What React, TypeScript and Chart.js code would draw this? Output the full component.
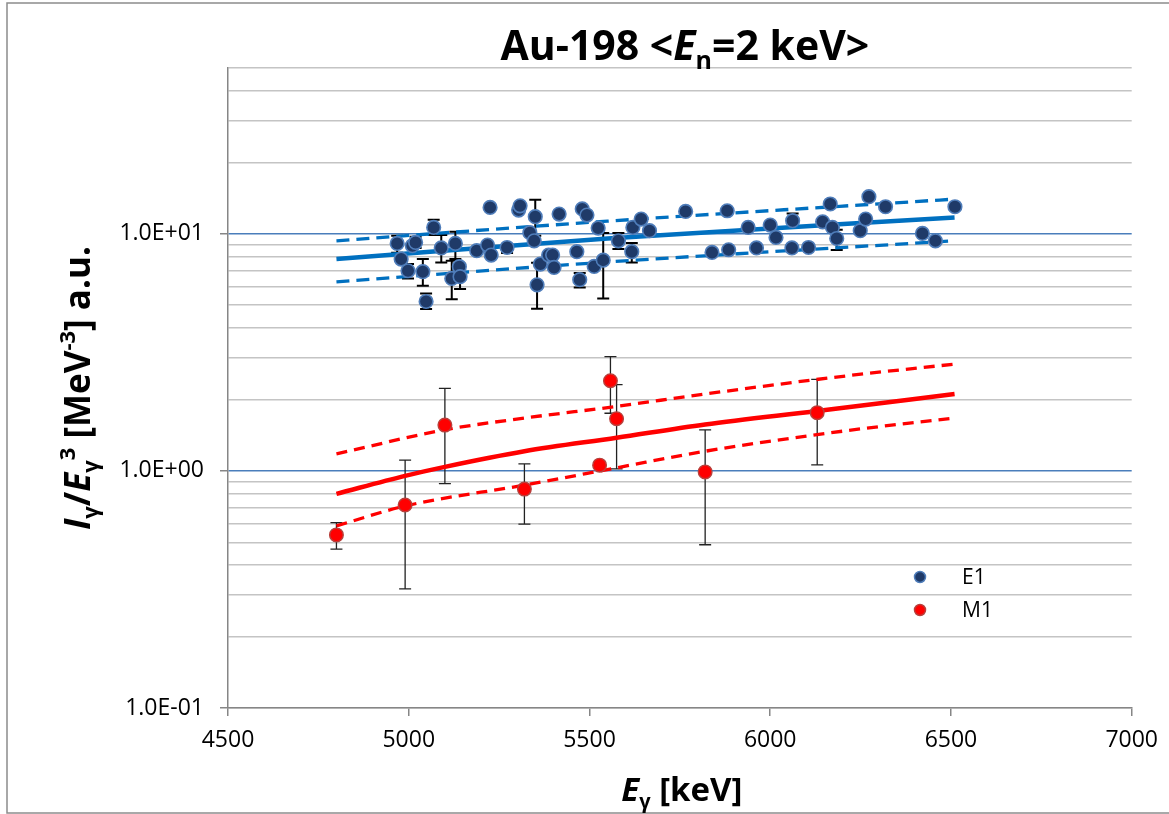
import { useEffect, useRef } from 'react';
import { Chart, registerables } from 'chart.js';

Chart.register(...registerables);

// ---------- DATA ----------
// E1 data points: gamma energy (keV) and intensity / E^3 (a.u.)
const e1Energy = [4968, 4979, 4998, 5010, 5019, 5039, 5048, 5069, 5090, 5129, 5140, 5119, 5142, 5188, 5218, 5228, 5225, 5272, 5304, 5308, 5350, 5335, 5347, 5364, 5355, 5416, 5387, 5398, 5402, 5465, 5473, 5480, 5493, 5524, 5513, 5538, 5580, 5617, 5620, 5643, 5666, 5766, 5881, 5939, 6000, 6016, 6062, 5839, 5885, 5962, 6060, 6106, 6145, 6172, 6184, 6166, 6249, 6264, 6273, 6319, 6421, 6457, 6511];
const e1Value = [9.10, 7.82, 6.98, 8.90, 9.19, 6.92, 5.18, 10.63, 8.71, 9.10, 7.26, 6.48, 6.59, 8.48, 8.96, 8.13, 12.91, 8.75, 12.59, 13.12, 11.80, 10.10, 9.34, 7.45, 6.09, 12.11, 8.13, 8.13, 7.21, 8.40, 6.40, 12.72, 11.99, 10.57, 7.28, 7.74, 9.34, 8.40, 10.63, 11.53, 10.30, 12.42, 12.50, 10.63, 10.88, 9.65, 11.35, 8.34, 8.56, 8.71, 8.71, 8.75, 11.23, 10.63, 9.55, 13.35, 10.30, 11.53, 14.33, 13.00, 10.03, 9.34, 13.00];
// E1 points that carry visible error bars (index into the arrays above)
const e1ErrIndex = [0, 2, 4, 5, 6, 7, 8, 9, 11, 12, 17, 20, 24, 30, 35, 36, 37, 46, 54];
const e1ErrLow = [8.31, 6.48, 8.70, 6.03, 4.81, 9.87, 7.57, 7.82, 5.30, 5.85, 8.29, 9.81, 4.83, 5.93, 5.33, 8.62, 7.57, 10.6, 8.54];
const e1ErrHigh = [9.81, 7.45, 9.71, 7.82, 5.60, 11.46, 9.87, 10.2, 7.69, 7.47, 8.96, 13.92, 7.54, 6.83, 10.07, 10.07, 9.14, 12.18, 10.4];

// M1 data points
const m1Energy = [4800, 4990, 5100, 5320, 5528, 5558, 5575, 5820, 6130];
const m1Value = [0.537, 0.718, 1.56, 0.838, 1.057, 2.40, 1.66, 0.99, 1.76];
const m1ErrLow: (number | null)[] = [0.468, 0.318, 0.884, 0.596, null, 1.75, 1.02, 0.488, 1.06];
const m1ErrHigh: (number | null)[] = [0.605, 1.11, 2.23, 1.07, null, 3.03, 2.31, 1.49, 2.43];

// E1 fit (solid) and its band (dashed)
const e1FitEnergy = [4800, 5550, 6510];
const e1FitValue = [7.83, 9.55, 11.7];
const e1UpperValue = [9.34, 11.3, 14.0];
const e1LowerValue = [6.27, 7.6, 9.34];

// M1 fit (solid) and its band (dashed)
const m1FitEnergy = [4800, 4990, 5100, 5320, 5575, 5820, 6130, 6510];
const m1FitValue = [0.80, 0.953, 1.04, 1.21, 1.38, 1.57, 1.79, 2.11];
const m1UpperEnergy = [4800, 5100, 5320, 5575, 5820, 6215, 6510];
const m1UpperValue = [1.18, 1.49, 1.67, 1.87, 2.11, 2.52, 2.82];
const m1LowerEnergy = [4800, 4990, 5320, 5575, 5820, 6215, 6510];
const m1LowerValue = [0.586, 0.711, 0.871, 1.03, 1.21, 1.48, 1.67];

// Axes
const xMin = 4500;
const xMax = 7000;
const xStep = 500;
const yMin = 0.1;
const yMax = 50;
const yDecades = [0.1, 1, 10];
const yMultipliers = [1, 2, 3, 4, 5, 6, 7, 8, 9];

const legendLabels = ['E1', 'M1'];

// ---------- STYLE ----------
const W = 1169;
const H = 814;
const FONT = '"Open Sans", "DejaVu Sans", sans-serif';
const E1_FILL = '#1F3A68';
const E1_EDGE = '#4F7DBA';
const M1_FILL = '#FF0000';
const M1_EDGE = '#B8403C';
const BLUE_LINE = '#0070C0';
const RED_LINE = '#FF0000';

const yTickValues: number[] = [];
yDecades.forEach((d) => yMultipliers.forEach((m) => {
  const v = +(d * m).toPrecision(3);
  if (v <= yMax) yTickValues.push(v);
}));
if (!yTickValues.includes(yMax)) yTickValues.push(yMax);

const isDecade = (v: number) => {
  const l = Math.log10(v);
  return Math.abs(l - Math.round(l)) < 1e-9;
};
const sciLabel = (v: number) => {
  const e = Math.round(Math.log10(v));
  return `1.0E${e < 0 ? '-' : '+'}${String(Math.abs(e)).padStart(2, '0')}`;
};

type Seg = { t: string; i?: boolean; sub?: boolean; sup?: boolean };

function drawRich(ctx: CanvasRenderingContext2D, segs: Seg[], cx: number, baseline: number, size: number) {
  const fontFor = (s: Seg) => `${s.i ? 'italic ' : ''}bold ${s.sub || s.sup ? Math.round(size * 0.62) : size}px ${FONT}`;
  let total = 0;
  for (const s of segs) {
    ctx.font = fontFor(s);
    total += ctx.measureText(s.t).width;
  }
  let x = cx - total / 2;
  ctx.textBaseline = 'alphabetic';
  ctx.textAlign = 'left';
  for (const s of segs) {
    ctx.font = fontFor(s);
    const dy = s.sub ? size * 0.22 : s.sup ? -size * 0.42 : 0;
    ctx.fillText(s.t, x, baseline + dy);
    x += ctx.measureText(s.t).width;
  }
}

const errorBarPlugin = {
  id: 'errorBars',
  beforeDatasetsDraw(chart: any) {
    const { ctx } = chart;
    const xs = chart.scales.x;
    const ys = chart.scales.y;
    const bar = (e: number, lo: number, hi: number, lw: number, color: string) => {
      const px = xs.getPixelForValue(e);
      const pl = ys.getPixelForValue(lo);
      const ph = ys.getPixelForValue(hi);
      ctx.strokeStyle = color;
      ctx.lineWidth = lw;
      ctx.beginPath();
      ctx.moveTo(px, pl);
      ctx.lineTo(px, ph);
      ctx.moveTo(px - 6, pl);
      ctx.lineTo(px + 6, pl);
      ctx.moveTo(px - 6, ph);
      ctx.lineTo(px + 6, ph);
      ctx.stroke();
    };
    ctx.save();
    e1ErrIndex.forEach((idx, k) => bar(e1Energy[idx], e1ErrLow[k], e1ErrHigh[k], 2, '#000'));
    m1Energy.forEach((e, i) => {
      const lo = m1ErrLow[i];
      const hi = m1ErrHigh[i];
      if (lo != null && hi != null) bar(e, lo, hi, 1.3, '#222');
    });
    ctx.restore();
  },
};

const decorPlugin = {
  id: 'decor',
  afterDraw(chart: any) {
    const { ctx, chartArea } = chart;
    ctx.save();
    // outer frame
    ctx.strokeStyle = '#8C8C8C';
    ctx.lineWidth = 1.5;
    ctx.strokeRect(7, 3, W + 20, 810);

    ctx.fillStyle = '#000';
    // title
    const midX = (chartArea.left + chartArea.right) / 2;
    drawRich(ctx, [
      { t: 'Au-198 <' },
      { t: 'E', i: true },
      { t: 'n', sub: true },
      { t: '=2 keV>' },
    ], midX + 5, 60, 41);

    // x title
    drawRich(ctx, [
      { t: 'E', i: true },
      { t: 'γ', sub: true },
      { t: ' [keV]' },
    ], midX + 2, 801, 33);

    // y title
    ctx.save();
    ctx.translate(90, (chartArea.top + chartArea.bottom) / 2);
    ctx.rotate(-Math.PI / 2);
    drawRich(ctx, [
      { t: 'I', i: true },
      { t: 'γ', sub: true },
      { t: '/' },
      { t: 'E', i: true },
      { t: 'γ', sub: true },
      { t: '3', sup: true },
      { t: ' [MeV' },
      { t: '-3', sup: true },
      { t: '] a.u.' },
    ], 0, 0, 35);
    ctx.restore();

    // legend
    const items = [
      { fill: E1_FILL, edge: E1_EDGE },
      { fill: M1_FILL, edge: M1_EDGE },
    ];
    items.forEach((it, k) => {
      const y = 577 + k * 33;
      ctx.beginPath();
      ctx.arc(920, y, 5.5, 0, Math.PI * 2);
      ctx.fillStyle = it.fill;
      ctx.fill();
      ctx.strokeStyle = it.edge;
      ctx.lineWidth = 1.5;
      ctx.stroke();
      ctx.fillStyle = '#000';
      ctx.font = `21px ${FONT}`;
      ctx.textBaseline = 'middle';
      ctx.textAlign = 'left';
      ctx.fillText(legendLabels[k], 962, y + 1);
    });
    ctx.restore();
  },
};

const toPts = (xs: number[], ys: number[]) => xs.map((x, i) => ({ x, y: ys[i] }));

const lineDs = (data: { x: number; y: number }[], color: string, width: number, dash: number[]) => ({
  type: 'line' as const,
  data,
  showLine: true,
  borderColor: color,
  borderWidth: width,
  borderDash: dash,
  pointRadius: 0,
  fill: false,
  tension: 0.3,
  cubicInterpolationMode: 'monotone' as const,
  order: 2,
});

export default function App() {
  const ref = useRef<HTMLCanvasElement>(null);

  useEffect(() => {
    if (!ref.current) return;
    const chart = new Chart(ref.current, {
      type: 'scatter',
      data: {
        datasets: [
          {
            label: 'E1',
            data: toPts(e1Energy, e1Value),
            backgroundColor: E1_FILL,
            borderColor: E1_EDGE,
            borderWidth: 1.6,
            pointRadius: 6.8,
            order: 0,
          },
          {
            label: 'M1',
            data: toPts(m1Energy, m1Value),
            backgroundColor: M1_FILL,
            borderColor: M1_EDGE,
            borderWidth: 1.4,
            pointRadius: 6.8,
            order: 0,
          },
          lineDs(toPts(e1FitEnergy, e1FitValue), BLUE_LINE, 4.5, []),
          lineDs(toPts(e1FitEnergy, e1UpperValue), BLUE_LINE, 3.3, [13, 7]),
          lineDs(toPts(e1FitEnergy, e1LowerValue), BLUE_LINE, 3.3, [13, 7]),
          lineDs(toPts(m1FitEnergy, m1FitValue), RED_LINE, 4.5, []),
          lineDs(toPts(m1UpperEnergy, m1UpperValue), RED_LINE, 3.3, [11, 7]),
          lineDs(toPts(m1LowerEnergy, m1LowerValue), RED_LINE, 3.3, [11, 7]),
        ] as any,
      },
      options: {
        animation: false,
        responsive: false,
        maintainAspectRatio: false,
        layout: { padding: { left: 0, right: 35, top: 68, bottom: 0 } },
        plugins: {
          legend: { display: false },
          tooltip: { enabled: false },
          title: { display: false },
        },
        scales: {
          x: {
            type: 'linear',
            min: xMin,
            max: xMax,
            ticks: {
              stepSize: xStep,
              color: '#000',
              font: { family: FONT, size: 23 },
              padding: 11,
              callback: (v: any) => String(v),
            },
            grid: {
              drawOnChartArea: false,
              drawTicks: true,
              tickLength: 8,
              color: '#868686',
              lineWidth: 1.5,
            },
            border: { color: '#868686', width: 1.5 },
            afterFit: (s: any) => { s.height = 106; },
          },
          y: {
            type: 'logarithmic',
            min: yMin,
            max: yMax,
            afterBuildTicks: (s: any) => { s.ticks = yTickValues.map((value) => ({ value })); },
            ticks: {
              autoSkip: false,
              color: '#000',
              font: { family: FONT, size: 23 },
              padding: 16,
              callback: (v: any) => (isDecade(Number(v)) ? sciLabel(Number(v)) : ''),
            },
            grid: {
              color: (c: any) => {
                const v = c.tick?.value;
                return v !== undefined && isDecade(v) && v !== yMin ? '#4A7EBB' : '#C4C4C4';
              },
              lineWidth: 1.5,
              tickLength: 8,
              tickColor: (c: any) => {
                const v = c.tick?.value;
                return v !== undefined && isDecade(v) ? '#868686' : 'rgba(0,0,0,0)';
              },
            },
            border: { color: '#868686', width: 1.5 },
            afterFit: (s: any) => { s.width = 228; },
          },
        },
      },
      plugins: [errorBarPlugin, decorPlugin],
    } as any);
    return () => chart.destroy();
  }, []);

  return (
    <div style={{ position: 'fixed', left: 0, top: 0, width: W, height: H, background: '#fff' }}>
      <canvas ref={ref} width={W} height={H} style={{ width: W, height: H, display: 'block' }} />
    </div>
  );
}
